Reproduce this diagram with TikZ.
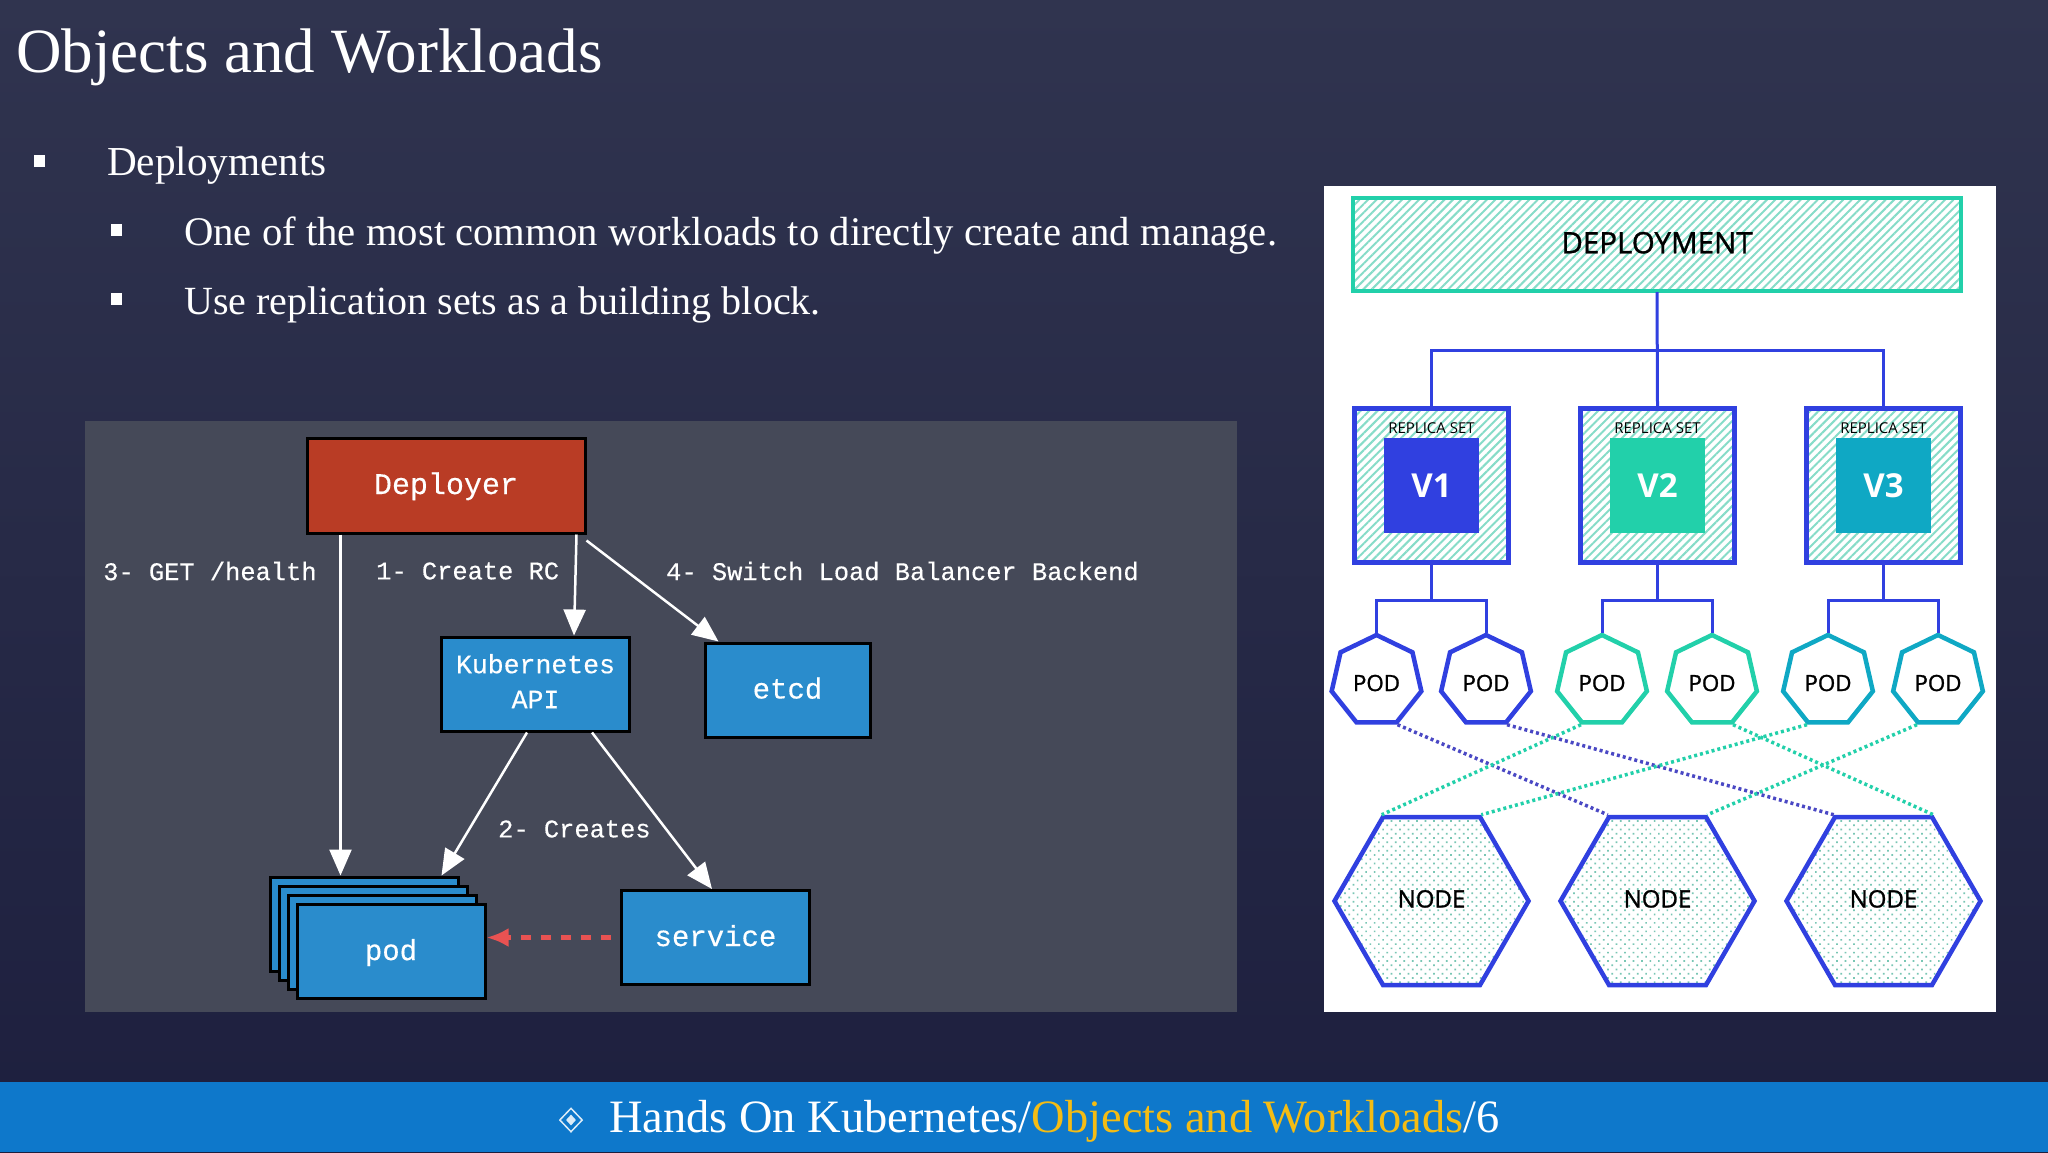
\documentclass[tikz,border=0pt]{standalone}
\usepackage{fontspec}
\usepackage{tikz}
\usetikzlibrary{arrows.meta,shapes.geometric,patterns.meta}
\setmainfont{Liberation Serif}
\newfontfamily\diagmono[FakeBold=0.4]{Liberation Mono}
\newfontfamily\diagsans[FakeBold=1.2]{Open Sans}
\newfontfamily\diagplain{Open Sans}
\definecolor{slidetop}{HTML}{30344F}
\definecolor{slidebottom}{HTML}{1D1F3E}
\definecolor{footerblue}{HTML}{0E78CB}
\definecolor{footergold}{HTML}{F4BC14}
\definecolor{panelgray}{HTML}{454958}
\definecolor{redbox}{HTML}{B93C25}
\definecolor{bluebox}{HTML}{2A8CCC}
\definecolor{dashred}{HTML}{E85252}
\definecolor{linkblue}{HTML}{3040E0}
\definecolor{dotblue}{HTML}{4A48C4}
\definecolor{tealedge}{HTML}{22D0AA}
\definecolor{cyanedge}{HTML}{0FA8C4}
\definecolor{hatchteal}{HTML}{86DCC8}
\tikzset{
	slidetext/.style={anchor=base west,inner sep=0pt,text=white},
	squarebullet/.style={fill=white,inner sep=0pt,minimum width=11pt,minimum height=12pt},
	sketchbox/.style={draw=black,line width=3pt,fill=bluebox,text=white,minimum width=188pt,minimum height=94pt,inner sep=0pt,align=center,text height=23pt,text depth=6pt,font=\diagmono\fontsize{29}{35}\selectfont},
	sketchlabel/.style={text=white,inner sep=0pt,font=\diagmono\fontsize{25.4}{30}\selectfont},
	sketcharrow/.style={white,line width=2.5pt,-{Triangle[length=26pt,width=22pt]}},
	hatched/.style={pattern={Lines[angle=45,distance=6pt,line width=2pt]},pattern color=hatchteal},
	replicabox/.style={draw=linkblue,line width=5pt,hatched,minimum width=154pt,minimum height=154pt,inner sep=0pt},
	versionbox/.style={text=white,minimum width=95pt,minimum height=95pt,inner sep=0pt,font=\diagplain\bfseries\fontsize{33}{38}\selectfont},
	podshape/.style={regular polygon,regular polygon sides=7,fill=white,line width=4.5pt,minimum size=92pt,inner sep=0pt,text=black,text height=20pt,text depth=0pt,font=\diagsans\fontsize{22.3}{25}\selectfont},
	workershape/.style={regular polygon,regular polygon sides=6,draw=linkblue,line width=4.5pt,minimum size=194pt,inner sep=0pt,text=black,text height=17pt,text depth=4pt,pattern={Dots[angle=45,distance=6pt,radius=1.2pt]},pattern color=hatchteal!90!black,font=\diagsans\fontsize{24}{28}\selectfont},
	linkline/.style={linkblue,line width=3pt},
	bluedots/.style={dotblue,line width=3.5pt,dash pattern=on 3pt off 3pt},
	tealdots/.style={tealedge,line width=3.5pt,dash pattern=on 3pt off 3pt}
}
\begin{document}
\begin{tikzpicture}[x=1pt,y=-1pt]
	\useasboundingbox (0,0) rectangle (2048,1152);
	\fill[top color=slidetop,bottom color=slidebottom] (0,0) rectangle (2048,1152);
	\fill[footerblue] (0,1082) rectangle (2048,1152);

	\node[slidetext,font=\fontsize{63}{70}\selectfont] (title) at (16,72) {Objects and Workloads};
	\node[squarebullet] (bulletA) at (39.5,161) {};
	\node[squarebullet] (bulletB) at (116,230) {};
	\node[squarebullet] (bulletC) at (116,299) {};
	\node[slidetext,font=\fontsize{41.2}{48}\selectfont] (lineA) at (107,175) {Deployments};
	\node[slidetext,font=\fontsize{40.7}{48}\selectfont] (lineB) at (184,245) {One of the most common workloads to directly create and manage.};
	\node[slidetext,font=\fontsize{40}{48}\selectfont] (lineC) at (184,314) {Use replication sets as a building block.};

	\node[diamond,draw=white!85!footerblue,line width=1.5pt,inner sep=0pt,minimum width=23pt,minimum height=24pt] (footdiamond) at (571,1120) {};
	\node[diamond,fill=white!85!footerblue,inner sep=0pt,minimum width=10pt,minimum height=11pt] (footcore) at (571,1120) {};
	\node[slidetext,font=\fontsize{46.4}{50}\selectfont] (footer) at (609,1132) {Hands On Kubernetes/\textcolor{footergold}{Objects and Workloads}/6};

	\fill[panelgray] (85,421) rectangle (1237,1012);
	\node[sketchbox,fill=redbox,minimum width=278pt,minimum height=95pt,font=\diagmono\fontsize{30}{36}\selectfont] (deployer) at (446,485.5) {Deployer};
	\node[sketchbox,text height=54.4pt,font=\diagmono\fontsize{26.5}{35}\selectfont] (kubeapi) at (535.5,684) {Kubernetes\\API};
	\node[sketchbox,minimum width=165pt] (etcd) at (787.5,690) {etcd};
	\node[sketchbox] (service) at (715.5,937.5) {service};
	\node[sketchbox] (podA) at (364,924) {};
	\node[sketchbox] (podB) at (373,933) {};
	\node[sketchbox] (podC) at (382,942) {};
	\node[sketchbox] (podD) at (391,951.5) {pod};

	\node[sketchlabel,anchor=west] (labelhealth) at (103,571) {3- GET /health};
	\node[sketchlabel,anchor=west] (labelcreate) at (376,571) {1- Create RC};
	\node[sketchlabel,anchor=west] (labelswitch) at (666,571) {4- Switch Load Balancer Backend};
	\node[sketchlabel,anchor=west] (labelcreates) at (498,829) {2- Creates};

	\draw[sketcharrow] ([xshift=35pt]deployer.south west)--([xshift=72pt]podA.north west);
	\draw[sketcharrow] ([xshift=-10pt]deployer.south east)--([xshift=134pt]kubeapi.north west);
	\draw[sketcharrow] ([yshift=-6pt]deployer.south east)--([xshift=15pt]etcd.north west);
	\draw[sketcharrow] ([xshift=87pt]kubeapi.south west)--([xshift=-18pt]podA.north east);
	\draw[sketcharrow] ([xshift=152pt]kubeapi.south west)--([xshift=92pt]service.north west);
	\draw[dashred,line width=5.5pt,dash pattern=on 10pt off 10pt,-{Latex[length=22pt,width=19pt]}] ([xshift=-9pt]service.west)--(podD.east |- service.west);

	\fill[white] (1324,186) rectangle (1996,1012);
	\node[draw=tealedge,line width=4pt,hatched,minimum width=608pt,minimum height=93pt,inner sep=0pt,text=black,text height=22pt,text depth=4.4pt,font=\diagsans\fontsize{29.5}{34}\selectfont] (deployment) at (1657,244.5) {DEPLOYMENT};
	\node[replicabox] (rsA) at (1431.5,485.5) {};
	\node[replicabox] (rsB) at (1657.5,485.5) {};
	\node[replicabox] (rsC) at (1883.5,485.5) {};
	\node[versionbox,fill=linkblue] (versionA) at (1431.5,485.5) {V1};
	\node[versionbox,fill=tealedge] (versionB) at (1657.5,485.5) {V2};
	\node[versionbox,fill=cyanedge] (versionC) at (1883.5,485.5) {V3};
	\node[text=black,inner sep=0pt,font=\diagplain\fontsize{15}{18}\selectfont] (captionA) at (1431.5,428) {REPLICA SET};
	\node[text=black,inner sep=0pt,font=\diagplain\fontsize{15}{18}\selectfont] (captionB) at (1657.5,428) {REPLICA SET};
	\node[text=black,inner sep=0pt,font=\diagplain\fontsize{15}{18}\selectfont] (captionC) at (1883.5,428) {REPLICA SET};

	\coordinate (busTop) at (1657.5,350);
	\coordinate (busA) at (1431.5,600);
	\coordinate (busB) at (1657.5,600);
	\coordinate (busC) at (1883.5,600);

	\node[podshape,draw=linkblue] (podone) at (1376.5,681) {POD};
	\node[podshape,draw=linkblue] (podtwo) at (1486,681) {POD};
	\node[podshape,draw=tealedge] (podthree) at (1602,681) {POD};
	\node[podshape,draw=tealedge] (podfour) at (1712,681) {POD};
	\node[podshape,draw=cyanedge] (podfive) at (1828,681) {POD};
	\node[podshape,draw=cyanedge] (podsix) at (1938,681) {POD};
	\node[workershape] (workerA) at (1431.5,901) {NODE};
	\node[workershape] (workerB) at (1657.5,901) {NODE};
	\node[workershape] (workerC) at (1883.5,901) {NODE};

	\draw[linkline] (deployment.south)--(rsB.north);
	\draw[linkline] (rsA.north) |- (busTop) -| (rsC.north);
	\draw[linkline] (rsA.south)--(busA);
	\draw[linkline] (rsB.south)--(busB);
	\draw[linkline] (rsC.south)--(busC);
	\draw[linkline] (podone.corner 1) |- (busA) -| (podtwo.corner 1);
	\draw[linkline] (podthree.corner 1) |- (busB) -| (podfour.corner 1);
	\draw[linkline] (podfive.corner 1) |- (busC) -| (podsix.corner 1);

	\draw[bluedots] (podone.corner 5)--(workerB.corner 2);
	\draw[bluedots] (podtwo.corner 5)--(workerC.corner 2);
	\draw[tealdots] (podthree.corner 4)--(workerA.corner 2);
	\draw[tealdots] (podfour.corner 5)--(workerC.corner 1);
	\draw[tealdots] (podfive.corner 4)--(workerA.corner 1);
	\draw[tealdots] (podsix.corner 4)--(workerB.corner 1);
\end{tikzpicture}
\end{document}
